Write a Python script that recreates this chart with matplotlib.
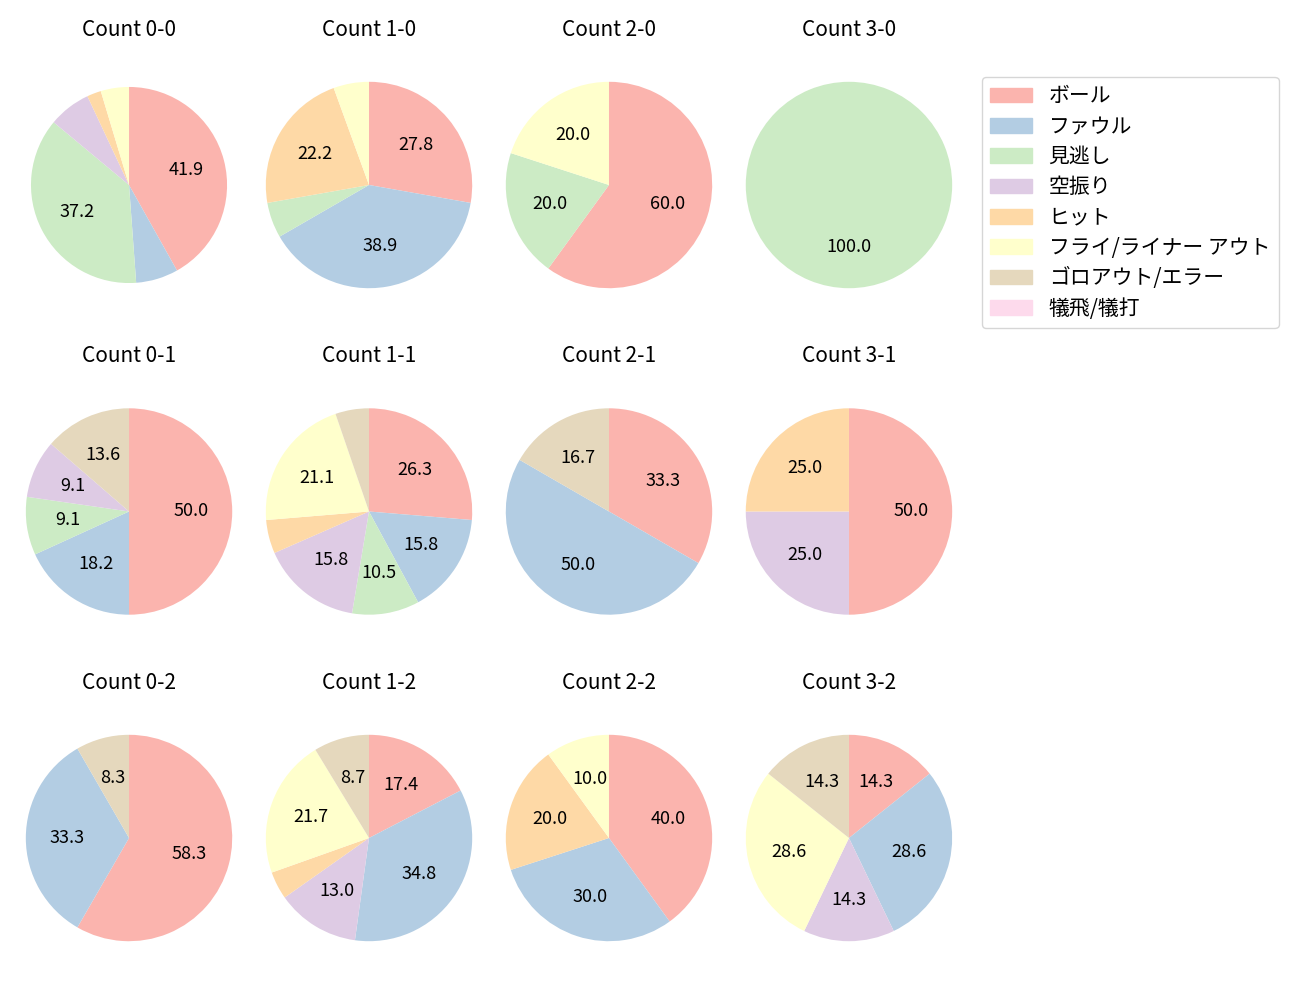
import matplotlib
matplotlib.use('Agg')
import matplotlib.pyplot as plt
import matplotlib.patches as mpatches

plt.rcParams['font.family'] = ['Noto Sans CJK JP', 'DejaVu Sans']

# カウント（ボール-ストライク）
counts = ['0-0', '1-0', '2-0', '3-0',
          '0-1', '1-1', '2-1', '3-1',
          '0-2', '1-2', '2-2', '3-2']

categories = ['ボール', 'ファウル', '見逃し', '空振り', 'ヒット',
              'フライ/ライナー アウト', 'ゴロアウト/エラー', '犠飛/犠打']

# 各結果の件数（counts の順）
ball = [18, 5, 3, 0, 11, 5, 2, 2, 7, 4, 4, 1]
foul = [3, 7, 0, 0, 4, 3, 3, 0, 4, 8, 3, 2]
minogashi = [16, 1, 1, 1, 2, 2, 0, 0, 0, 0, 0, 0]
karaburi = [3, 0, 0, 0, 2, 3, 0, 1, 0, 3, 0, 1]
hit = [1, 4, 0, 0, 0, 1, 0, 1, 0, 1, 2, 0]
fly = [2, 1, 1, 0, 0, 4, 0, 0, 0, 5, 1, 2]
goro = [0, 0, 0, 0, 3, 1, 1, 0, 1, 2, 0, 1]
gisei = [0, 0, 0, 0, 0, 0, 0, 0, 0, 0, 0, 0]

series = [ball, foul, minogashi, karaburi, hit, fly, goro, gisei]
colors = [plt.cm.Pastel1(i) for i in range(len(categories))]


def pct_label(p):
    return f'{p:.1f}' if p >= 7.5 else ''


fig, axes = plt.subplots(3, 4, figsize=(13, 10), dpi=100)
fig.subplots_adjust(left=0.0, right=0.7523, top=0.944, bottom=0.033,
                    wspace=-0.07, hspace=0.2655)

for i, ax in enumerate(axes.flat):
    vals = [s[i] for s in series]
    # 0-0 だけ少し小さめ
    r = 0.95 if i == 0 else 1.0
    ax.pie(vals, colors=colors, startangle=90, counterclock=False,
           autopct=pct_label, radius=r, textprops={'fontsize': 13})
    ax.set_title(f'Count {counts[i]}', fontsize=15, pad=14.5)

handles = [mpatches.Patch(color=c, label=l) for c, l in zip(colors, categories)]
fig.legend(handles=handles, loc='upper left', bbox_to_anchor=(0.7554, 0.923),
           borderaxespad=0, fontsize=15, labelspacing=0.4)

fig.savefig('out.png')
